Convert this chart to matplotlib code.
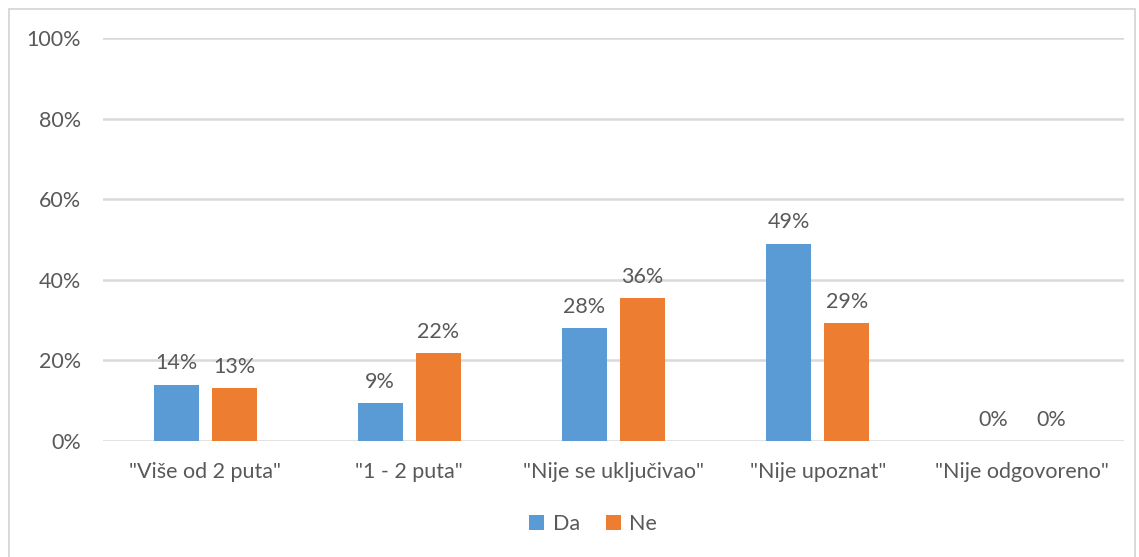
import matplotlib

matplotlib.use("Agg")

import matplotlib.pyplot as plt
import numpy as np
from matplotlib.patches import Rectangle
from matplotlib.ticker import PercentFormatter

BLUE = "#5B9BD5"
ORANGE = "#ED7D31"
TEXT = "#595959"
GRID = "#D9D9D9"

categories = ['"Više od 2 puta"', '"1 - 2 puta"', '"Nije se uključivao"',
              '"Nije upoznat"', '"Nije odgovoreno"']
da = [14, 9.4, 28, 49, 0]
ne = [13.2, 21.8, 35.5, 29.2, 0]
series_names = ["Da", "Ne"]
yticks = [0, 20, 40, 60, 80, 100]

FS = 15.5

plt.rcParams.update({
    "font.family": ["Lato", "DejaVu Sans"],
    "font.size": FS,
    "text.color": TEXT,
    "xtick.color": TEXT,
    "ytick.color": TEXT,
})

W, H = 1139, 557
fig = plt.figure(figsize=(W / 100, H / 100), dpi=100)
ax = fig.add_axes([103 / W, 1 - 441 / H, (1124 - 103) / W, (441 - 38) / H])

# chart border
fig.patches.append(Rectangle((9 / W, -0.05), (1135 - 9) / W, 1 - 9 / H + 0.05,
                             transform=fig.transFigure, fill=False,
                             edgecolor=GRID, linewidth=1.4))

x = np.arange(len(categories))
w = 0.22
off = 0.142
b1 = ax.bar(x - off, da, width=w, color=BLUE, label=series_names[0], zorder=3)
b2 = ax.bar(x + off, ne, width=w, color=ORANGE, label=series_names[1], zorder=3)

for bars in (b1, b2):
    for bar in bars:
        h = bar.get_height()
        ax.annotate(f"{h:.0f}%", (bar.get_x() + bar.get_width() / 2, h),
                    xytext=(0, 8), textcoords="offset points",
                    ha="center", va="bottom", fontsize=FS, color=TEXT)

ax.set_xlim(-0.5, len(categories) - 0.5)
ax.set_ylim(0, 100)
ax.set_yticks(yticks)
ax.yaxis.set_major_formatter(PercentFormatter(decimals=0))
ax.set_xticks(x, categories)
ax.tick_params(axis="both", length=0, labelsize=FS)
ax.tick_params(axis="y", pad=16)
ax.tick_params(axis="x", pad=15)
ax.grid(axis="y", color=GRID, linewidth=1.8, zorder=0)
for s in ax.spines.values():
    s.set_visible(False)

ax.legend(loc="center", bbox_to_anchor=(0.48, -0.205), ncol=2, frameon=False,
          handlelength=0.7, handleheight=0.7, handletextpad=0.4,
          columnspacing=1.2, fontsize=FS)

fig.savefig("out.png", dpi=100, facecolor="white")
